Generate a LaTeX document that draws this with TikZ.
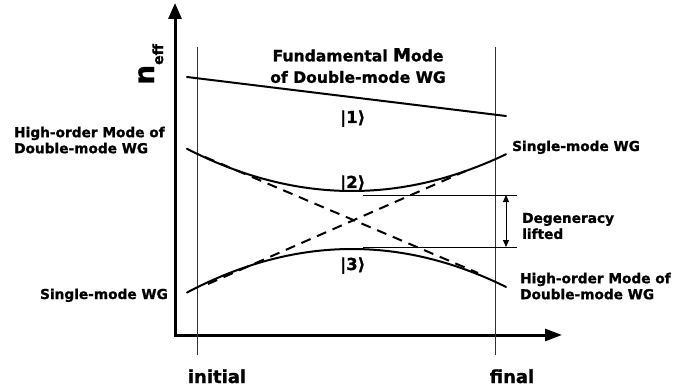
\documentclass[tikz,border=0pt]{standalone}
\usepackage{fontspec}
\setmainfont{DejaVu Sans}[BoldFeatures={FakeBold=1.2}]
\usetikzlibrary{arrows.meta}
\begin{document}
\begin{tikzpicture}[x=1pt,y=-1pt,
  lbl/.style={font=\bfseries\fontsize{13.7}{16}\selectfont, inner sep=0pt, align=left},
  toplbl/.style={font=\bfseries\fontsize{15.6}{21.5}\selectfont, inner sep=0pt, align=center},
  axlbl/.style={font=\bfseries\fontsize{18}{20}\selectfont, inner sep=0pt},
  ket/.style={font=\bfseries\fontsize{16.5}{17}\selectfont, inner sep=0pt},
  curve/.style={line width=2pt, line cap=round},
  asym/.style={line width=2pt, dash pattern=on 10pt off 7pt},
  guide/.style={line width=1pt, black!80},
  level/.style={line width=1pt},
  axis/.style={line width=3pt, line join=miter, {Triangle[length=16pt,width=13pt]}-{Triangle[length=17pt,width=12pt]}},
  gap/.style={line width=1pt, {Triangle[length=7pt,width=6pt]}-{Triangle[length=7pt,width=6pt]}}]
\useasboundingbox (0,0) rectangle (690,390);

% axes
\coordinate (ytop) at (175,3);
\coordinate (origin) at (175,335);
\coordinate (xend) at (562,335);
\draw[axis] (ytop) -- (origin) -- (xend);

% guides
\coordinate (gi1) at (197,47); \coordinate (gi2) at (197,355);
\coordinate (gf1) at (495,47); \coordinate (gf2) at (495,355);
\draw[guide] (gi1) -- (gi2);
\draw[guide] (gf1) -- (gf2);

% fundamental mode
\coordinate (f1) at (187,77); \coordinate (f2) at (506,116);
\draw[curve] (f1) -- (f2);

% dashed asymptotes
\coordinate (a1) at (205,157); \coordinate (a2) at (478,273);
\coordinate (b1) at (208,284); \coordinate (b2) at (468,170);
\draw[asym] (a1) -- (a2);
\draw[asym] (b1) -- (b2);

% avoided crossing curves
\draw[curve] plot[domain=187:506, samples=80] (\x, {191 - (0.03937*(\x-352))^2});
\draw[curve] plot[domain=187:506, samples=80] (\x, {249 + (0.04*(\x-352))^2});

% levels
\coordinate (u1) at (363,195); \coordinate (u2) at (517,195);
\coordinate (l1) at (363,247); \coordinate (l2) at (517,247);
\draw[level] (u1) -- (u2);
\draw[level] (l1) -- (l2);
\coordinate (gu) at (506,195); \coordinate (gl) at (506,247);
\draw[gap] (gu) -- (gl);

% labels
\node[rotate=90, anchor=base west, inner sep=0pt] (neff) at (154,85)
  {\bfseries\fontsize{28}{28}\selectfont n\raisebox{-9pt}{\fontsize{14}{14}\selectfont eff}};
\node[toplbl, anchor=north] (fund) at (358,48)
  {Fundamental {\fontsize{18}{18}\selectfont M}ode\\of Double-mode WG};
\node[lbl, anchor=north west] (hoL) at (14,126.6) {High-order Mode of\\Double-mode WG};
\node[lbl, anchor=north west] (hoR) at (520,272.6) {High-order Mode of\\Double-mode WG};
\node[lbl, anchor=base west] (smR) at (512,151) {Single-mode WG};
\node[lbl, anchor=base east] (smL) at (168,299) {Single-mode WG};
\node[lbl, anchor=north west] (deg) at (522,212.7) {Degeneracy\\lifted};
\node[axlbl, anchor=base] (ini) at (217,383) {initial};
\node[axlbl, anchor=base] (fin) at (512,383) {final};
\node[ket, anchor=base west] (k1) at (340,123) {|1⟩};
\node[ket, anchor=base west] (k2) at (340,188) {|2⟩};
\node[ket, anchor=base west] (k3) at (340,270) {|3⟩};
\end{tikzpicture}
\end{document}
